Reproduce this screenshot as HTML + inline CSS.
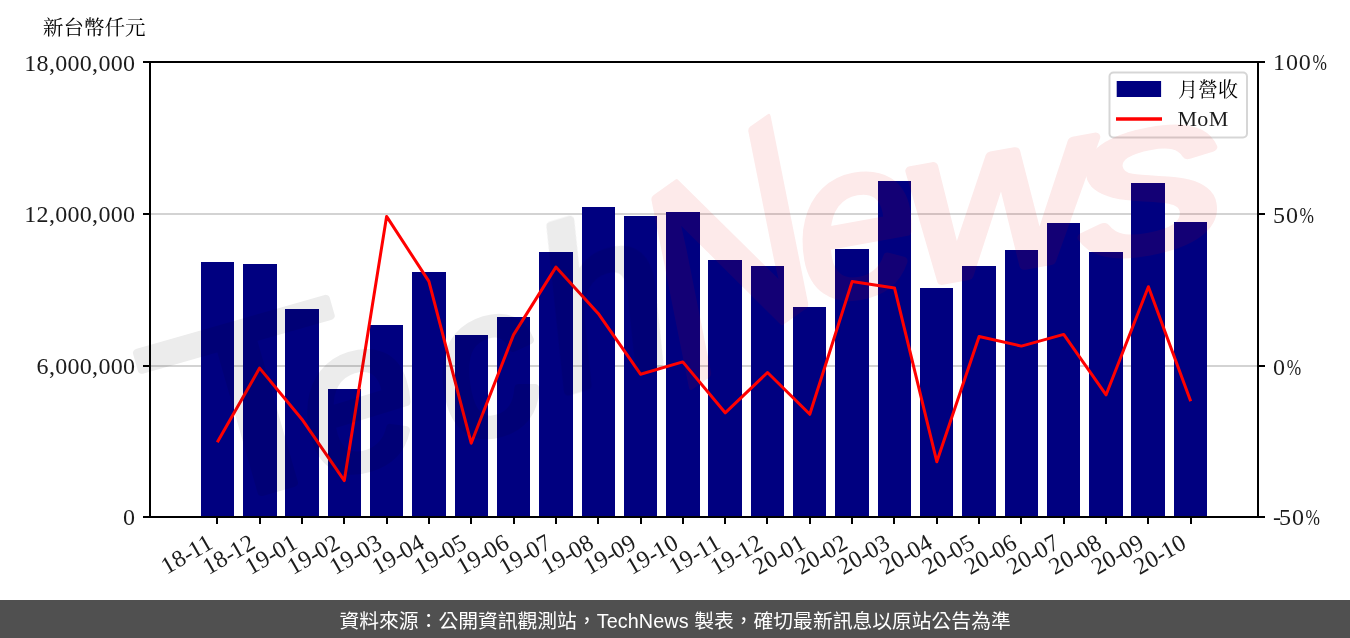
<!DOCTYPE html>
<html lang="zh-Hant">
<head>
<meta charset="utf-8">
<title>月營收</title>
<style>
html,body{margin:0;padding:0;background:#fff;}
body{width:1350px;height:638px;overflow:hidden;position:relative;}
svg{position:absolute;left:0;top:0;display:block;}
.tk{font-family:"Liberation Serif","Noto Serif CJK TC","Noto Serif CJK SC",serif;font-size:24px;fill:#1c1c1c;letter-spacing:0.3px;}
.cj{font-family:"Liberation Serif","Noto Serif CJK TC","Noto Serif CJK SC",serif;font-size:20.5px;fill:#000;}
#footer{position:absolute;left:0;top:600px;width:1350px;height:38px;background:#505050;}
#footer i{font-style:normal;letter-spacing:0.1px;}
#footer span{position:absolute;left:339.5px;top:1.5px;line-height:38px;white-space:nowrap;color:#fff;font-family:"Liberation Sans","Noto Sans CJK TC","Noto Sans CJK SC",sans-serif;font-size:19.8px;}
</style>
</head>
<body>
<svg width="1350" height="600" viewBox="0 0 1350 600">
<rect x="0" y="0" width="1350" height="600" fill="#fff"/>
<g stroke="#d3d3d3" stroke-width="2">
<line x1="151" y1="214.00" x2="1257" y2="214.00"/>
<line x1="151" y1="366.00" x2="1257" y2="366.00"/>
</g>
<g fill="#000080">
<rect x="201" y="262.0" width="33" height="255.0"/>
<rect x="243" y="264.0" width="34" height="253.0"/>
<rect x="285" y="309.0" width="34" height="208.0"/>
<rect x="328" y="389.0" width="33" height="128.0"/>
<rect x="370" y="325.0" width="33" height="192.0"/>
<rect x="412" y="272.0" width="34" height="245.0"/>
<rect x="455" y="335.0" width="33" height="182.0"/>
<rect x="497" y="317.0" width="33" height="200.0"/>
<rect x="539" y="252.0" width="34" height="265.0"/>
<rect x="582" y="207.0" width="33" height="310.0"/>
<rect x="624" y="216.0" width="33" height="301.0"/>
<rect x="666" y="212.0" width="34" height="305.0"/>
<rect x="708" y="260.0" width="34" height="257.0"/>
<rect x="751" y="266.0" width="33" height="251.0"/>
<rect x="793" y="307.0" width="33" height="210.0"/>
<rect x="835" y="249.0" width="34" height="268.0"/>
<rect x="878" y="181.0" width="33" height="336.0"/>
<rect x="920" y="288.0" width="33" height="229.0"/>
<rect x="962" y="266.0" width="34" height="251.0"/>
<rect x="1005" y="250.0" width="33" height="267.0"/>
<rect x="1047" y="223.0" width="33" height="294.0"/>
<rect x="1089" y="252.0" width="34" height="265.0"/>
<rect x="1131" y="183.0" width="34" height="334.0"/>
<rect x="1174" y="222.0" width="33" height="295.0"/>
</g>
<polyline points="217.3,442.2 259.6,368.1 301.9,419.2 344.3,480.6 386.6,216.4 428.9,281.4 471.2,443.2 513.5,334.9 555.9,267.1 598.2,313.4 640.5,374.2 682.8,361.9 725.2,412.8 767.5,372.5 809.8,414.3 852.1,281.6 894.5,287.9 936.8,461.7 979.1,336.5 1021.4,346.1 1063.7,334.4 1106.1,394.8 1148.4,286.7 1190.7,401.2" fill="none" stroke="#ff0000" stroke-width="3" stroke-linejoin="round" stroke-linecap="butt"/>
<g stroke="#000" stroke-width="2" fill="none">
<rect x="150" y="62" width="1108" height="455"/>
<line x1="143" y1="62" x2="150" y2="62"/>
<line x1="1258" y1="62" x2="1265" y2="62"/>
<line x1="143" y1="214" x2="150" y2="214"/>
<line x1="1258" y1="214" x2="1265" y2="214"/>
<line x1="143" y1="366" x2="150" y2="366"/>
<line x1="1258" y1="366" x2="1265" y2="366"/>
<line x1="143" y1="517" x2="150" y2="517"/>
<line x1="1258" y1="517" x2="1265" y2="517"/>
<line x1="217" y1="517" x2="217" y2="524"/>
<line x1="260" y1="517" x2="260" y2="524"/>
<line x1="302" y1="517" x2="302" y2="524"/>
<line x1="344" y1="517" x2="344" y2="524"/>
<line x1="387" y1="517" x2="387" y2="524"/>
<line x1="429" y1="517" x2="429" y2="524"/>
<line x1="471" y1="517" x2="471" y2="524"/>
<line x1="514" y1="517" x2="514" y2="524"/>
<line x1="556" y1="517" x2="556" y2="524"/>
<line x1="598" y1="517" x2="598" y2="524"/>
<line x1="641" y1="517" x2="641" y2="524"/>
<line x1="683" y1="517" x2="683" y2="524"/>
<line x1="725" y1="517" x2="725" y2="524"/>
<line x1="767" y1="517" x2="767" y2="524"/>
<line x1="810" y1="517" x2="810" y2="524"/>
<line x1="852" y1="517" x2="852" y2="524"/>
<line x1="894" y1="517" x2="894" y2="524"/>
<line x1="937" y1="517" x2="937" y2="524"/>
<line x1="979" y1="517" x2="979" y2="524"/>
<line x1="1021" y1="517" x2="1021" y2="524"/>
<line x1="1064" y1="517" x2="1064" y2="524"/>
<line x1="1106" y1="517" x2="1106" y2="524"/>
<line x1="1148" y1="517" x2="1148" y2="524"/>
<line x1="1191" y1="517" x2="1191" y2="524"/>
</g>
<text class="tk" x="135.3" y="71.2" text-anchor="end">18,000,000</text>
<text class="tk" x="135.3" y="222.2" text-anchor="end">12,000,000</text>
<text class="tk" x="135.3" y="373.7" text-anchor="end">6,000,000</text>
<text class="tk" x="135.3" y="524.7" text-anchor="end">0</text>
<text class="tk" x="1273.1" y="70.2" style="letter-spacing:0.8px">100<tspan dx="0.9" textLength="15" lengthAdjust="spacingAndGlyphs">%</tspan></text>
<text class="tk" x="1273.1" y="222.5" style="letter-spacing:0.8px">50<tspan dx="0.9" textLength="15" lengthAdjust="spacingAndGlyphs">%</tspan></text>
<text class="tk" x="1273.1" y="374.5" style="letter-spacing:0.8px">0<tspan dx="0.9" textLength="15" lengthAdjust="spacingAndGlyphs">%</tspan></text>
<text class="tk" x="1273.1" y="525.3" style="letter-spacing:0.8px">-<tspan dx="-2.8">50</tspan><tspan dx="0.9" textLength="15" lengthAdjust="spacingAndGlyphs">%</tspan></text>
<text class="tk" text-anchor="end" transform="translate(214.59,547.2) rotate(-30)">18-<tspan dx="-1.5">11</tspan></text>
<text class="tk" text-anchor="end" transform="translate(256.91,547.2) rotate(-30)">18-<tspan dx="-1.5">12</tspan></text>
<text class="tk" text-anchor="end" transform="translate(299.24,547.2) rotate(-30)">19-<tspan dx="-1.5">01</tspan></text>
<text class="tk" text-anchor="end" transform="translate(341.56,547.2) rotate(-30)">19-<tspan dx="-1.5">02</tspan></text>
<text class="tk" text-anchor="end" transform="translate(383.88,547.2) rotate(-30)">19-<tspan dx="-1.5">03</tspan></text>
<text class="tk" text-anchor="end" transform="translate(426.20,547.2) rotate(-30)">19-<tspan dx="-1.5">04</tspan></text>
<text class="tk" text-anchor="end" transform="translate(468.53,547.2) rotate(-30)">19-<tspan dx="-1.5">05</tspan></text>
<text class="tk" text-anchor="end" transform="translate(510.85,547.2) rotate(-30)">19-<tspan dx="-1.5">06</tspan></text>
<text class="tk" text-anchor="end" transform="translate(553.17,547.2) rotate(-30)">19-<tspan dx="-1.5">07</tspan></text>
<text class="tk" text-anchor="end" transform="translate(595.49,547.2) rotate(-30)">19-<tspan dx="-1.5">08</tspan></text>
<text class="tk" text-anchor="end" transform="translate(637.82,547.2) rotate(-30)">19-<tspan dx="-1.5">09</tspan></text>
<text class="tk" text-anchor="end" transform="translate(680.14,547.2) rotate(-30)">19-<tspan dx="-1.5">10</tspan></text>
<text class="tk" text-anchor="end" transform="translate(722.46,547.2) rotate(-30)">19-<tspan dx="-1.5">11</tspan></text>
<text class="tk" text-anchor="end" transform="translate(764.78,547.2) rotate(-30)">19-<tspan dx="-1.5">12</tspan></text>
<text class="tk" text-anchor="end" transform="translate(807.11,547.2) rotate(-30)">20-<tspan dx="-1.5">01</tspan></text>
<text class="tk" text-anchor="end" transform="translate(849.43,547.2) rotate(-30)">20-<tspan dx="-1.5">02</tspan></text>
<text class="tk" text-anchor="end" transform="translate(891.75,547.2) rotate(-30)">20-<tspan dx="-1.5">03</tspan></text>
<text class="tk" text-anchor="end" transform="translate(934.07,547.2) rotate(-30)">20-<tspan dx="-1.5">04</tspan></text>
<text class="tk" text-anchor="end" transform="translate(976.40,547.2) rotate(-30)">20-<tspan dx="-1.5">05</tspan></text>
<text class="tk" text-anchor="end" transform="translate(1018.72,547.2) rotate(-30)">20-<tspan dx="-1.5">06</tspan></text>
<text class="tk" text-anchor="end" transform="translate(1061.04,547.2) rotate(-30)">20-<tspan dx="-1.5">07</tspan></text>
<text class="tk" text-anchor="end" transform="translate(1103.36,547.2) rotate(-30)">20-<tspan dx="-1.5">08</tspan></text>
<text class="tk" text-anchor="end" transform="translate(1145.69,547.2) rotate(-30)">20-<tspan dx="-1.5">09</tspan></text>
<text class="tk" text-anchor="end" transform="translate(1188.01,547.2) rotate(-30)">20-<tspan dx="-1.5">10</tspan></text>
<text class="cj" x="43" y="35">新台幣仟元</text>
<rect x="1109.5" y="72.5" width="137.5" height="65" rx="4" ry="4" fill="#fff" fill-opacity="0.8" stroke="#ccc" stroke-opacity="0.8" stroke-width="2"/>
<rect x="1116.7" y="81" width="44.4" height="16" fill="#000080"/>
<line x1="1116" y1="119" x2="1162" y2="119" stroke="#ff0000" stroke-width="3.6"/>
<text class="cj" x="1178" y="96.5" style="font-size:20px">月營收</text>
<text class="tk" x="1177.5" y="126" style="font-size:22px">MoM</text>
<g opacity="0.075" font-family='"Liberation Sans",sans-serif' font-style="italic" text-anchor="middle" fill="#000" stroke="#000" stroke-linejoin="round" stroke-linecap="round"><text transform="translate(278,488) rotate(-16) scale(1.4,1)" font-size="246" font-style="normal" stroke-width="7">T</text><text transform="translate(267,477) rotate(-17) translate(108,19)" font-size="205" stroke-width="9">e</text><text transform="translate(267,477) rotate(-17) translate(242,24)" font-size="205" stroke-width="9">c</text><text transform="translate(267,477) rotate(-17) translate(372,6)" font-size="225" stroke-width="9">h</text></g><g opacity="0.082" font-family='"Liberation Sans",sans-serif' text-anchor="middle" fill="#e60000" stroke="#e60000" stroke-linejoin="round" stroke-linecap="round"><text transform="matrix(0.729,-0.517,0.1945,0.9726,674.8,397.9)" text-anchor="start" font-size="280" stroke-width="7">N</text><text transform="translate(868.0,292.0) rotate(-10.3) scale(1.00,1)" font-size="215" font-style="italic" stroke-width="9">e</text><text transform="translate(1010.0,268.0) rotate(-10.3) scale(1.20,1)" font-size="215" font-style="italic" stroke-width="9">w</text><text transform="translate(1160.0,247.0) rotate(-10.3) scale(1.38,1)" font-size="215" font-style="italic" stroke-width="9">s</text></g>
</svg>
<div id="footer"><span>資料來源：公開資訊觀測站，<i>TechNews</i> 製表，確切最新訊息以原站公告為準</span></div>
</body>
</html>
